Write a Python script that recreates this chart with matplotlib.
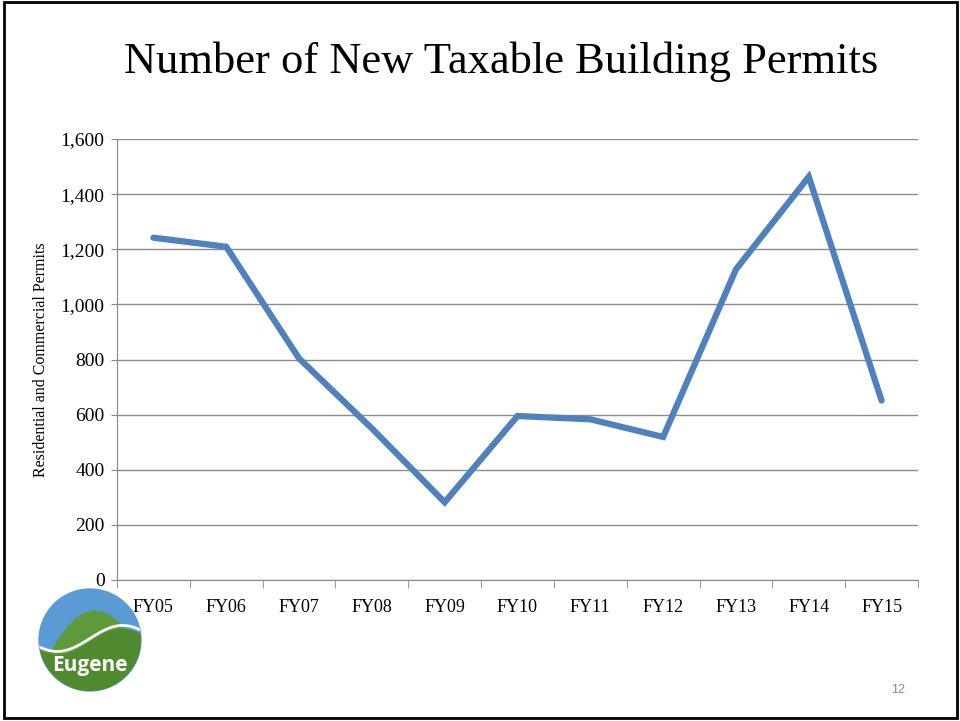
import numpy as np
import matplotlib.pyplot as plt
from matplotlib.patches import Rectangle, Circle, Polygon

# Data
years = ['FY05', 'FY06', 'FY07', 'FY08', 'FY09', 'FY10', 'FY11', 'FY12', 'FY13', 'FY14', 'FY15']
permits = [1242, 1209, 804, 550, 282, 595, 583, 519, 1127, 1463, 651]
y_ticks = [0, 200, 400, 600, 800, 1000, 1200, 1400, 1600]

serif = ['Liberation Serif', 'DejaVu Serif']

fig = plt.figure(figsize=(9.6, 7.21), dpi=100)

# slide border
fig.patches.append(Rectangle((0.004, 0.004), 0.993, 0.993, transform=fig.transFigure,
                             fill=False, edgecolor='black', linewidth=2))

# title
fig.text(0.522, 0.914, 'Number of New Taxable Building Permits', ha='center', va='center',
         fontsize=32, family=serif, color='black')

# axes: left 117, right 918, top 139, bottom 580 (pixels)
ax = fig.add_axes([117 / 960, 1 - 580 / 721, (918 - 117) / 960, (580 - 139) / 721])
x = np.arange(len(years))
ax.plot(x, permits, color='#4F81BD', linewidth=4.5, solid_joinstyle='miter',
        solid_capstyle='round', zorder=3)

ax.set_xlim(-0.5, len(years) - 0.5)
ax.set_ylim(0, 1600)
ax.set_yticks(y_ticks)
ax.set_yticklabels([f'{v:,}' for v in y_ticks], family=serif, fontsize=14)
ax.set_xticks(x)
ax.set_xticklabels(years, family=serif, fontsize=13)
ax.tick_params(axis='x', length=0, pad=14)
ax.set_xticks(np.arange(-0.5, len(years)), minor=True)
ax.tick_params(axis='x', which='minor', length=6, color='#888888', direction='out')
ax.tick_params(axis='y', length=4, color='#888888', direction='out', pad=5)

ax.grid(axis='y', color='#8c8c8c', linewidth=1)
ax.set_axisbelow(True)
for side in ['top', 'right']:
    ax.spines[side].set_visible(False)
for side in ['left', 'bottom']:
    ax.spines[side].set_color('#888888')

ax.set_ylabel('Residential and Commercial Permits', family=serif, fontsize=11.5, labelpad=8)

# simplified Eugene logo
lax = fig.add_axes([37 / 960, 1 - 692 / 721, 106 / 960, 104 / 721])
lax.set_xlim(-1, 1)
lax.set_ylim(-1, 1)
lax.set_aspect('equal')
lax.axis('off')
clip = Circle((0, 0), 0.98, transform=lax.transData)
bg = Circle((0, 0), 0.98, color='#5b9bd5')
lax.add_patch(bg)
hill_x = np.linspace(-1, 1, 60)
hill_y = 0.55 - 1.1 * (hill_x - 0.1) ** 2
hill_y = np.maximum(hill_y, -0.2)
hill = Polygon(np.column_stack([np.r_[hill_x, 1, -1], np.r_[hill_y, -1, -1]]), color='#5e9a3a')
lax.add_patch(hill)
hill.set_clip_path(clip)
front_y = -0.05 + 0.25 * np.sin(hill_x * 2.5)
front = Polygon(np.column_stack([np.r_[hill_x, 1, -1], np.r_[front_y, -1, -1]]), color='#4f8a2f')
lax.add_patch(front)
front.set_clip_path(clip)
ln, = lax.plot(hill_x, front_y + 0.08, color='white', linewidth=2)
ln.set_clip_path(clip)
lax.text(0, -0.5, 'Eugene', ha='center', va='center', color='white', fontsize=15,
         fontweight='bold', family=['Open Sans', 'DejaVu Sans'])

# page number
fig.text(0.935, 0.043, '12', ha='center', va='center', fontsize=9, color='#888888',
         family=['Liberation Sans', 'DejaVu Sans'])

fig.savefig('out.png', dpi=100)
